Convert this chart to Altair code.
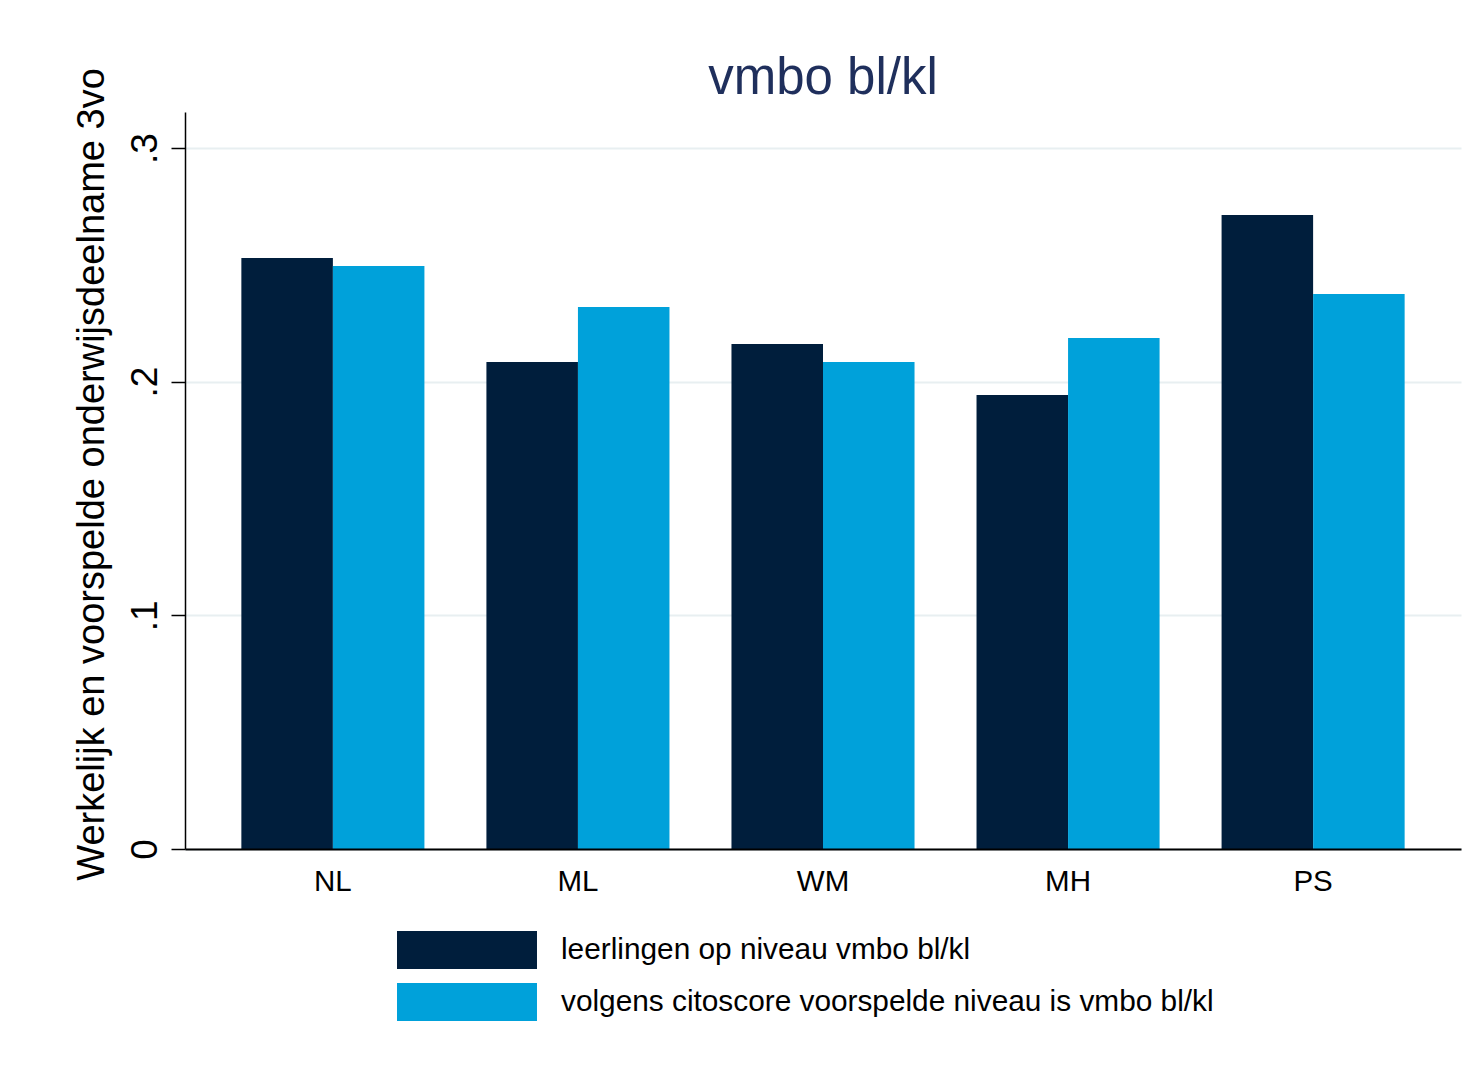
import altair as alt
import pandas as pd

categories = ["NL", "ML", "WM", "MH", "PS"]
series = [
    "leerlingen op niveau vmbo bl/kl",
    "volgens citoscore voorspelde niveau is vmbo bl/kl",
]
actual = [0.2529, 0.2084, 0.2161, 0.1943, 0.2713]
predicted = [0.2495, 0.2320, 0.2084, 0.2187, 0.2375]
colors = ["#001E3C", "#00A1DA"]
y_ticks = [0, 0.1, 0.2, 0.3]

rows = []
for c, a, p in zip(categories, actual, predicted):
    rows.append({"cat": c, "serie": series[0], "value": a})
    rows.append({"cat": c, "serie": series[1], "value": p})
df = pd.DataFrame(rows)

FONT = "Liberation Sans"
rect_path = "M-3.684,-1H3.684V1H-3.684Z"

chart = (
    alt.Chart(df)
    .mark_bar()
    .encode(
        x=alt.X(
            "cat:N",
            sort=categories,
            scale=alt.Scale(paddingInner=0.253, paddingOuter=0.23),
            axis=alt.Axis(
                title=None,
                labelAngle=0,
                ticks=False,
                tickSize=0,
                labelPadding=41,
                labelBaseline="alphabetic",
                labelFontSize=29.5,
                labelFont=FONT,
                labelColor="black",
                domainColor="black",
                domainWidth=2,
                grid=False,
                zindex=1,
            ),
        ),
        xOffset=alt.XOffset(
            "serie:N",
            sort=series,
            scale=alt.Scale(domain=series, paddingInner=0, paddingOuter=0),
        ),
        y=alt.Y(
            "value:Q",
            scale=alt.Scale(domain=[0, 0.3154], nice=False, zero=True),
            axis=alt.Axis(
                values=y_ticks,
                labelExpr="datum.value == 0 ? '0' : replace(format(datum.value, '.1f'), '0.', '.')",
                labelAngle=270,
                labelAlign="center",
                labelBaseline="alphabetic",
                labelFontSize=37,
                labelFont=FONT,
                labelColor="black",
                labelPadding=15,
                tickSize=14,
                tickWidth=1.5,
                tickColor="black",
                domainColor="black",
                domainWidth=1.5,
                grid=True,
                gridColor="#E8EFF1",
                gridWidth=2,
                title="Werkelijk en voorspelde onderwijsdeelname 3vo",
                titleFontSize=38,
                titleFont=FONT,
                titleFontWeight="normal",
                titleColor="black",
                titleAngle=270,
                titleAlign="center",
                titleBaseline="alphabetic",
                titleX=-82,
                titleY=362,
            ),
        ),
        color=alt.Color(
            "serie:N",
            sort=series,
            scale=alt.Scale(domain=series, range=colors),
            legend=alt.Legend(
                title=None,
                orient="none",
                legendX=263,
                legendY=819,
                direction="vertical",
                symbolType=rect_path,
                symbolSize=1444,
                symbolStrokeWidth=0,
                symbolOpacity=1,
                labelFontSize=29.8,
                labelFont=FONT,
                labelColor="black",
                labelOffset=75,
                labelLimit=1000,
                rowPadding=14,
                padding=0,
            ),
        ),
    )
    .properties(
        width=1276,
        height=737,
        autosize=alt.AutoSizeParams(type="none"),
        padding={"left": 177, "top": 104, "right": 8, "bottom": 205},
        view=alt.ViewBackground(stroke="white", strokeWidth=0, strokeOpacity=0),
        title=alt.TitleParams(
            "vmbo bl/kl",
            fontSize=51,
            color="#1F2F5C",
            font=FONT,
            fontWeight="normal",
            anchor="middle",
            offset=8,
            dy=45,
        ),
    )
    .configure_view(strokeWidth=0, stroke="white", strokeOpacity=0)
    .configure(background="white")
)

chart.save("out.html", embed_options={"renderer": "svg", "actions": False})
